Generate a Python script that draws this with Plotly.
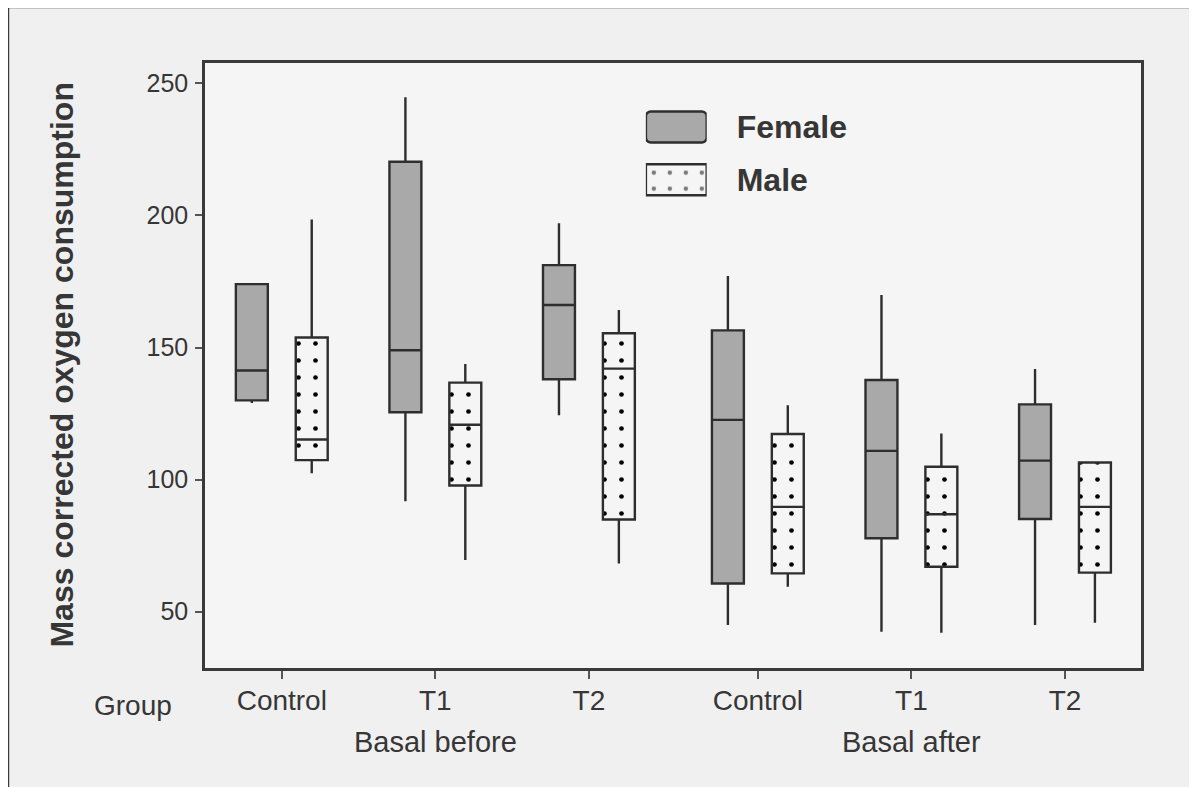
import plotly.graph_objects as go

# ---------------- data ----------------
categories = ["Control", "T1", "T2", "Control", "T1", "T2"]
phase_labels = ["Basal before", "Basal after"]
sexes = ["Female", "Male"]

female_q1 = [130.0, 125.5, 138.0, 60.7, 77.8, 85.1]
female_median = [141.3, 149.0, 166.1, 122.6, 110.9, 107.2]
female_q3 = [174.0, 220.3, 181.2, 156.5, 137.7, 128.5]
female_low = [129.0, 91.8, 124.4, 45.0, 42.4, 45.0]
female_high = [174.0, 244.7, 197.0, 177.1, 169.9, 141.9]

male_q1 = [107.4, 97.8, 84.9, 64.5, 67.0, 64.8]
male_median = [115.2, 120.8, 142.0, 89.7, 86.9, 89.7]
male_q3 = [153.8, 136.7, 155.4, 117.3, 104.9, 106.5]
male_low = [102.4, 69.6, 68.3, 59.5, 42.0, 45.8]
male_high = [198.5, 143.8, 164.2, 128.2, 117.5, 106.5]

y_ticks = [50, 100, 150, 200, 250]

# ---------------- layout config ----------------
slot_pos = [0, 1, 2, 3.1, 4.1, 5.1]
offset = 0.195
box_w = 0.208
female_x = [p - offset for p in slot_pos]
male_x = [p + offset for p in slot_pos]

FONT = "Liberation Sans, Arial, sans-serif"
TXT = "#363636"
LINE = "#2e2e2e"
GRAY = "#a9a9a9"
BG = "#f5f5f5"
PAPER = "#f0f0f0"
DOT = "#000000"

fig = go.Figure()

# dotted fill for male boxes (drawn under the box outlines)
fig.add_trace(go.Bar(
    x=male_x,
    y=[h - l for h, l in zip(male_q3, male_q1)],
    base=male_q1,
    width=box_w,
    marker=dict(color=BG, line=dict(width=0),
                pattern=dict(shape=".", size=17, solidity=0.06,
                             fgcolor=DOT, bgcolor=BG, fillmode="replace")),
    showlegend=False, hoverinfo="skip",
))

fig.add_trace(go.Box(
    name="Female", x=female_x, q1=female_q1, median=female_median, q3=female_q3,
    lowerfence=female_low, upperfence=female_high, width=box_w,
    fillcolor=GRAY, line=dict(color=LINE, width=2.4), whiskerwidth=0,
    boxpoints=False, orientation="v", showlegend=False,
))
fig.add_trace(go.Box(
    name="Male", x=male_x, q1=male_q1, median=male_median, q3=male_q3,
    lowerfence=male_low, upperfence=male_high, width=box_w,
    fillcolor="rgba(0,0,0,0)", line=dict(color=LINE, width=2.4), whiskerwidth=0,
    boxpoints=False, orientation="v", showlegend=False,
))

# legend drawn as a tiny horizontal bar chart on its own axes
fig.add_trace(go.Bar(
    x=[1], y=[sexes[0]], base=0, orientation="h", width=0.59, offsetgroup="leg",
    marker=dict(color=GRAY, line=dict(color=LINE, width=2.5), cornerradius=5),
    xaxis="x2", yaxis="y2", showlegend=False, hoverinfo="skip",
))
fig.add_trace(go.Bar(
    x=[1], y=[sexes[1]], base=0, orientation="h", width=0.59, offsetgroup="leg",
    marker=dict(color=BG, line=dict(color=LINE, width=2.5),
                pattern=dict(shape=".", size=16, solidity=0.06,
                             fgcolor=DOT, bgcolor=BG)),
    xaxis="x2", yaxis="y2", showlegend=False, hoverinfo="skip",
))

annotations = [
    dict(text="Mass corrected oxygen consumption", xref="paper", yref="paper",
         x=-0.1538, y=0.5, xanchor="center", yanchor="middle",
         textangle=-90, showarrow=False,
         font=dict(family=FONT, size=32, color=TXT, weight="bold")),
    dict(text="Group", xref="paper", yref="paper", x=-0.0769, y=-0.0612,
         xanchor="center", yanchor="middle",
         showarrow=False, font=dict(family=FONT, size=28, color=TXT)),
    dict(text=phase_labels[0], xref="x", yref="paper", x=slot_pos[1], y=-0.1223,
         xanchor="center", yanchor="middle",
         showarrow=False, font=dict(family=FONT, size=29, color=TXT)),
    dict(text=phase_labels[1], xref="x", yref="paper", x=slot_pos[4], y=-0.1223,
         xanchor="center", yanchor="middle",
         showarrow=False, font=dict(family=FONT, size=29, color=TXT)),
]

fig.update_layout(
    width=1197, height=787,
    # the page body adds 8px on the left/top, compensated here
    margin=dict(l=197, r=64, t=55, b=127),
    paper_bgcolor=PAPER, plot_bgcolor=BG,
    showlegend=False, boxmode="overlay", barmode="group",
    font=dict(family=FONT, color=TXT),
    annotations=annotations,
    xaxis=dict(range=[-0.5, 5.595], tickvals=slot_pos, ticktext=categories,
               showgrid=False, zeroline=False, showline=True, mirror=True,
               linecolor="#3a3a3a", linewidth=2.5, ticks="outside", ticklen=8,
               tickcolor="#555", tickwidth=2, ticklabelstandoff=-2,
               tickfont=dict(family=FONT, size=28, color=TXT)),
    yaxis=dict(range=[28.7, 257.7], tickvals=y_ticks,
               showgrid=False, zeroline=False, showline=True, mirror=True,
               linecolor="#3a3a3a", linewidth=2.5, ticks="outside", ticklen=7,
               tickcolor="#555", tickwidth=2, ticklabelstandoff=2,
               tickfont=dict(family=FONT, size=25, color=TXT)),
    xaxis2=dict(domain=[0.471, 0.536], range=[0, 1], anchor="y2",
                visible=False),
    yaxis2=dict(domain=[0.7636, 0.9378], anchor="x2", side="right",
                categoryorder="array", categoryarray=[sexes[1], sexes[0]],
                range=[-0.5, 1.5], showgrid=False, zeroline=False,
                showline=False, ticks="", ticklabelstandoff=29,
                tickfont=dict(family=FONT, size=32, color=TXT, weight="bold")),
    shapes=[dict(type="rect", xref="paper", yref="paper",
                 x0=-0.2105, x1=1.0577, y0=-0.25, y1=1.0926,
                 line=dict(color="#3a3a3a", width=2.5), fillcolor="rgba(0,0,0,0)",
                 layer="below")],
)

fig.write_html("out.html")
